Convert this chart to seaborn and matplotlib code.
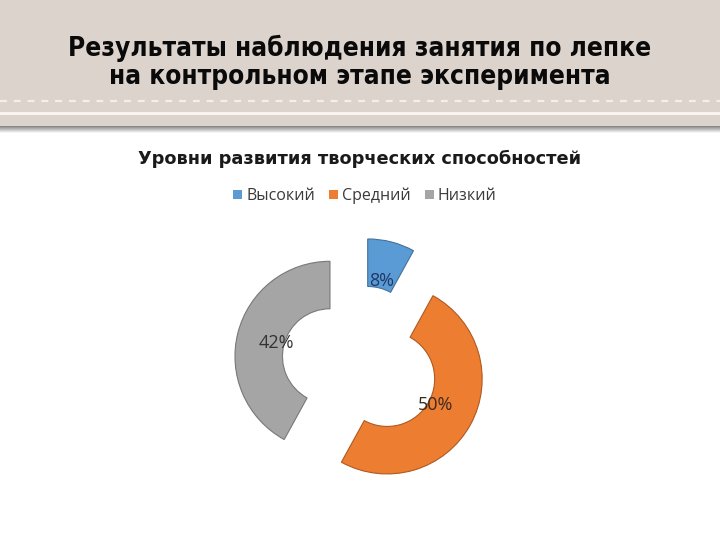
import matplotlib
matplotlib.use("Agg")
import matplotlib.pyplot as plt
import matplotlib.patches as mpatches
import seaborn as sns
import numpy as np

# ---- data ----
categories = ["Высокий", "Средний", "Низкий"]
values = [8, 50, 42]
pct_labels = ["8%", "50%", "42%"]
slide_title = "Результаты наблюдения занятия по лепке\nна контрольном этапе эксперимента"
chart_title = "Уровни развития творческих способностей"

sns.set_theme(style="white")
plt.rcParams["font.family"] = ["DejaVu Sans"]

colors = ["#5B9BD5", "#ED7D31", "#A5A5A5"]
edges = ["#41719C", "#AE5A21", "#787878"]
pct_colors = ["#1F3864", "#3A2A20", "#333333"]

W, H = 720, 540
fig = plt.figure(figsize=(7.2, 5.4), dpi=100)
fig.patch.set_facecolor("white")
ax = fig.add_axes([0, 0, 1, 1])

def py(y):
    return H - y

# shadow below band
for i, a in enumerate(np.linspace(0.75, 0.05, 8)):
    ax.add_patch(mpatches.Rectangle((0, py(126 + i)), W, 1, facecolor="#4a4a4a",
                                    alpha=a, edgecolor="none", zorder=1))
ax.add_patch(mpatches.Rectangle((0, py(126)), W, 126, facecolor="#DDD3CD",
                                edgecolor="none", zorder=2))
ax.plot([0, W], [py(100.5), py(100.5)], color="#F6EEE9", lw=1.6,
        dashes=(3.1, 3.1), zorder=3)
ax.plot([0, W], [py(113), py(113)], color="#FBF6F2", lw=2.0, zorder=3)

fig.text(0.5, py(62) / H, slide_title, ha="center", va="center",
         fontsize=18.8, fontweight="bold", fontstretch="condensed",
         family=["DejaVu Sans"],
         linespacing=1.1, color="#0a0a0a", zorder=5)

fig.text(0.5, py(159) / H, chart_title, ha="center", va="center",
         fontsize=12.8, fontweight="bold", color="#1a1a1a",
         family=["DejaVu Sans"])

# exploded donut
radius = 95
center = (360, py(364))
explode = [31] * 3
wedges, texts, autotexts = ax.pie(
    values, colors=colors, startangle=90, counterclock=False,
    radius=radius, center=center, explode=explode,
    autopct=lambda p: "", pctdistance=0.58,
    wedgeprops=dict(width=0.5 * radius, linewidth=0.8),
)
for w, ec in zip(wedges, edges):
    w.set_edgecolor(ec)
for t, lab, c in zip(autotexts, pct_labels, pct_colors):
    t.set_text(lab)
    t.set_color(c)
    t.set_fontsize(13)
    t.set_family(["Open Sans", "DejaVu Sans"])

ax.set_xlim(0, W)
ax.set_ylim(0, H)
ax.set_aspect("auto")
ax.axis("off")

handles = [mpatches.Patch(facecolor=c, edgecolor="none") for c in colors]
leg = fig.legend(handles, categories, loc="center", bbox_to_anchor=(365 / W, py(196) / H),
                 ncol=3, frameon=False, handlelength=0.55, handleheight=0.55,
                 handletextpad=0.25, columnspacing=0.9,
                 prop=dict(family=["Open Sans", "DejaVu Sans"], size=11.5))
for t in leg.get_texts():
    t.set_color("#3a3a3a")

fig.savefig("out.png", dpi=100, facecolor="white")
